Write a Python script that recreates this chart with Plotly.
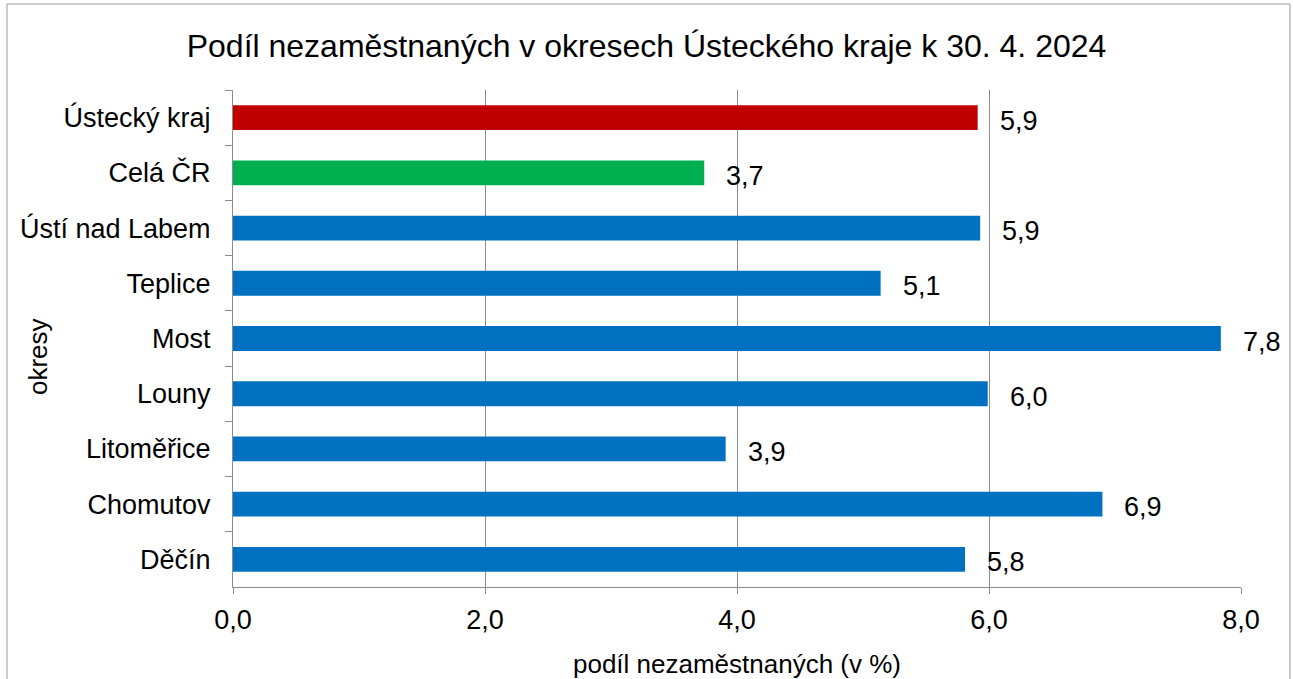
import plotly.graph_objects as go

categories = ["Ústecký kraj", "Celá ČR", "Ústí nad Labem", "Teplice", "Most",
              "Louny", "Litoměřice", "Chomutov", "Děčín"]
values = [5.91, 3.74, 5.93, 5.14, 7.84, 5.99, 3.91, 6.90, 5.81]
colors = ["#C00000", "#00B050"] + ["#0070C0"] * 7

title_text = "Podíl nezaměstnaných v okresech Ústeckého kraje k 30. 4. 2024"
x_title = "podíl nezaměstnaných (v %)"
y_title = "okresy"
x_ticks = [0, 2, 4, 6, 8]

FONT = "Liberation Sans, Arial, sans-serif"

fig = go.Figure()
fig.add_trace(go.Bar(
    y=categories, x=values, orientation="h",
    marker=dict(color=colors, line=dict(width=0)),
    width=0.45, showlegend=False, hoverinfo="x+y",
))

for c, v in zip(categories, values):
    fig.add_annotation(x=v, y=c, text=f"{v:.1f}".replace(".", ","),
                       xanchor="left", yanchor="middle", xshift=20, yshift=-3,
                       showarrow=False, font=dict(family=FONT, size=27, color="#000"))

# y-axis title
fig.add_annotation(xref="paper", yref="paper", x=(38 - 233) / 1008, y=(587 - 357) / 497,
                   text=y_title, textangle=-90, showarrow=False,
                   xanchor="center", yanchor="middle",
                   font=dict(family=FONT, size=26, color="#000"))

fig.update_layout(
    width=1293, height=679,
    margin=dict(l=233, r=52, t=90, b=92, autoexpand=False),
    paper_bgcolor="white", plot_bgcolor="white",
    separators=", ",
    font=dict(family=FONT, size=27, color="#000"),
    title=dict(text=title_text, x=0.5, xanchor="center", y=0.933, yanchor="middle",
               font=dict(family=FONT, size=32, color="#000")),
    bargap=0.55,
)
fig.update_xaxes(
    range=[0, 8], tickvals=x_ticks, tickformat=".1f",
    showgrid=True, gridcolor="#8c8c8c", gridwidth=1,
    showline=True, linecolor="#8c8c8c", linewidth=1,
    ticks="outside", ticklen=6, tickcolor="#8c8c8c",
    zeroline=False, ticklabelstandoff=3, automargin=False,
    title=dict(text=x_title, font=dict(size=26), standoff=22),
)
fig.update_yaxes(
    autorange="reversed", showgrid=False,
    showline=True, linecolor="#8c8c8c", linewidth=1,
    ticks="outside", ticklen=7, tickcolor="#8c8c8c", tickson="boundaries",
    ticklabelstandoff=16, automargin=False,
)
fig.add_shape(type="rect", xref="paper", yref="paper",
              x0=(7 - 233) / 1008, x1=(1290 - 233) / 1008,
              y0=-0.3, y1=(587 - 4) / 497,
              line=dict(color="#9a9a9a", width=1), fillcolor="rgba(0,0,0,0)", layer="below")

fig.write_html("out.html", config={"displayModeBar": False},
               post_script="document.body.style.margin='0';document.body.style.overflow='hidden';")
